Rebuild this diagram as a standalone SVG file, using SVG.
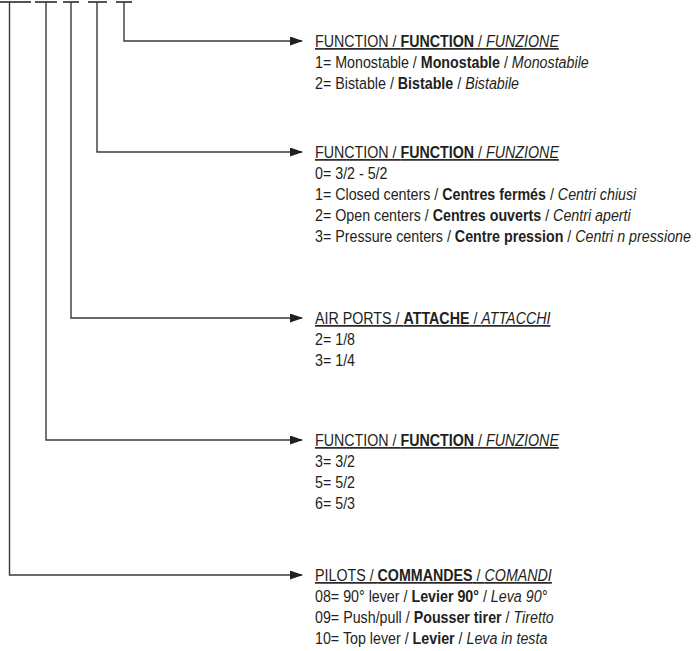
<svg xmlns="http://www.w3.org/2000/svg" width="697" height="651" viewBox="0 0 697 651">
<defs>
<marker id="ah" markerWidth="13" markerHeight="9" refX="12" refY="4.5" orient="auto" markerUnits="userSpaceOnUse">
<path d="M0,0 L13,4.5 L0,9 Z" fill="#231f20"/>
</marker>
<style>
.c{fill:none;stroke:#3a3a3a;stroke-width:1.4}
.bar{stroke:#555;stroke-width:2}
text{font-family:"Liberation Sans",Arial,sans-serif;font-size:16.5px;fill:#231f20}
.h{text-decoration:underline}
.b{font-weight:bold}
.i{font-style:italic}
</style>
</defs>
<rect width="697" height="651" fill="#fff"/>
<g id="code-bars">
<line class="bar" x1="0" y1="2" x2="31" y2="2"/>
<line class="bar" x1="35" y1="2" x2="57" y2="2"/>
<line class="bar" x1="63" y1="2" x2="79" y2="2"/>
<line class="bar" x1="88" y1="2" x2="107" y2="2"/>
<line class="bar" x1="116" y1="2" x2="132" y2="2"/>
</g>
<g id="connectors">
<path class="c" d="M124,2 V41 H302" marker-end="url(#ah)"/>
<path class="c" d="M97,2 V152 H302" marker-end="url(#ah)"/>
<path class="c" d="M71,2 V318 H302" marker-end="url(#ah)"/>
<path class="c" d="M46,2 V440 H302" marker-end="url(#ah)"/>
<path class="c" d="M9.5,2 V575 H302" marker-end="url(#ah)"/>
</g>
<g id="node-function-1" transform="translate(315,0) scale(0.865,1)">
<text class="h" x="0" y="47">FUNCTION / <tspan class="b">FUNCTION</tspan> / <tspan class="i">FUNZIONE</tspan></text>
<text x="0" y="68">1= Monostable / <tspan class="b">Monostable</tspan> / <tspan class="i">Monostabile</tspan></text>
<text x="0" y="89">2= Bistable / <tspan class="b">Bistable</tspan> / <tspan class="i">Bistabile</tspan></text>
</g>
<g id="node-function-2" transform="translate(315,0) scale(0.865,1)">
<text class="h" x="0" y="158">FUNCTION / <tspan class="b">FUNCTION</tspan> / <tspan class="i">FUNZIONE</tspan></text>
<text x="0" y="179">0= 3/2 - 5/2</text>
<text x="0" y="200">1= Closed centers / <tspan class="b">Centres fermés</tspan> / <tspan class="i">Centri chiusi</tspan></text>
<text x="0" y="221">2= Open centers / <tspan class="b">Centres ouverts</tspan> / <tspan class="i">Centri aperti</tspan></text>
<text x="0" y="242">3= Pressure centers / <tspan class="b">Centre pression</tspan> / <tspan class="i">Centri n pressione</tspan></text>
</g>
<g id="node-air-ports" transform="translate(315,0) scale(0.865,1)">
<text class="h" x="0" y="324">AIR PORTS / <tspan class="b">ATTACHE</tspan> / <tspan class="i">ATTACCHI </tspan></text>
<text x="0" y="345">2= 1/8</text>
<text x="0" y="366">3= 1/4</text>
</g>
<g id="node-function-3" transform="translate(315,0) scale(0.865,1)">
<text class="h" x="0" y="446">FUNCTION / <tspan class="b">FUNCTION</tspan> / <tspan class="i">FUNZIONE</tspan></text>
<text x="0" y="467">3= 3/2</text>
<text x="0" y="488">5= 5/2</text>
<text x="0" y="509">6= 5/3</text>
</g>
<g id="node-pilots" transform="translate(315,0) scale(0.865,1)">
<text class="h" x="0" y="581">PILOTS / <tspan class="b">COMMANDES</tspan> / <tspan class="i">COMANDI </tspan></text>
<text x="0" y="602">08= 90° lever / <tspan class="b">Levier 90°</tspan> / <tspan class="i">Leva 90°</tspan></text>
<text x="0" y="623">09= Push/pull / <tspan class="b">Pousser tirer</tspan> / <tspan class="i">Tiretto</tspan></text>
<text x="0" y="644">10= Top lever / <tspan class="b">Levier</tspan> / <tspan class="i">Leva in testa</tspan></text>
</g>
</svg>
